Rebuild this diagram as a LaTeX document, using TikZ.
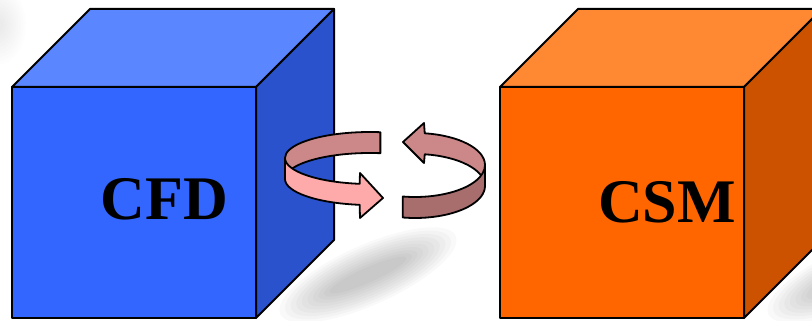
\documentclass[tikz,border=0pt]{standalone}
\usepackage{fontspec}
\setmainfont{Liberation Serif}
\usepackage{xcolor}
\usepackage{tikz}
\usetikzlibrary{calc}

\definecolor{cfdfront}{HTML}{3366FF}
\definecolor{cfdtop}{HTML}{5A86FF}
\definecolor{cfdside}{HTML}{2952CC}
\definecolor{csmfront}{HTML}{FF6600}
\definecolor{csmtop}{HTML}{FF8833}
\definecolor{csmside}{HTML}{CC5200}
\definecolor{ringback}{HTML}{CC8888}
\definecolor{ringfront}{HTML}{FFAAAA}
\definecolor{ringdark}{HTML}{A86E6E}

% cube: lower left corner of the front face, then front, top and side colours
\newcommand{\drawcube}[5]{%
    \filldraw[face, fill=#3] (#1,#2) rectangle ++(244,231);
    \filldraw[face, fill=#4] (#1,#2+231) -- ++(78,78) -- ++(244,0) -- ++(-78,-78) -- cycle;
    \filldraw[face, fill=#5] (#1+244,#2) -- ++(78,78) -- ++(0,231) -- ++(-78,-78) -- cycle;
}

\begin{document}
\begin{tikzpicture}[
        x=1pt, y=1pt,
        face/.style={draw=black, line width=2pt, line join=round},
        band/.style={draw=black, line width=1.8pt, line join=round},
        lbl/.style={font=\fontsize{62}{62}\selectfont\bfseries, inner sep=0pt},
    ]
    \useasboundingbox (0,0) rectangle (812,321);
    \clip (0,0) rectangle (812,321);

    % soft shadows behind the cubes
    \foreach \k in {0,...,9} {
        \fill[black, opacity=0.025, rotate around={24:(368,46)}]
            (368,46) ellipse[x radius=96-6*\k, y radius=30-2.5*\k];
        \fill[black, opacity=0.025, rotate around={24:(856,46)}]
            (856,46) ellipse[x radius=96-6*\k, y radius=30-2.5*\k];
        \fill[black, opacity=0.008] (-4,296) ellipse[x radius=30-2.5*\k, y radius=40-3.5*\k];
    }

    \drawcube{12}{3}{cfdfront}{cfdtop}{cfdside}
    \drawcube{500}{3}{csmfront}{csmtop}{csmside}

    % ring arrow leaving the CFD cube
    \filldraw[band, fill=ringback]
        ($(370,163)+(83:85 and 26)$) arc[start angle=83, end angle=180, x radius=85, y radius=26]
        -- ++(0,-21) arc[start angle=180, end angle=83, x radius=85, y radius=26] -- cycle;
    \filldraw[band, fill=ringfront]
        (285,163) arc[start angle=180, end angle=263, x radius=85, y radius=26]
        -- (360,148) -- (383,123) -- (360,103)
        -- ($(370,142)+(263:85 and 26)$) arc[start angle=263, end angle=180, x radius=85, y radius=26] -- cycle;

    % ring arrow coming back from the CSM cube
    \filldraw[band, fill=ringback]
        ($(415,156)+(82:70 and 32)$) arc[start angle=82, end angle=0, x radius=70, y radius=32]
        -- ++(0,-21) arc[start angle=0, end angle=82, x radius=70, y radius=32]
        -- (424,158) -- (403,179) -- (424,198) -- cycle;
    \filldraw[band, fill=ringdark]
        (485,156) arc[start angle=0, end angle=-100, x radius=70, y radius=32]
        -- ++(0,-21) arc[start angle=-100, end angle=0, x radius=70, y radius=32] -- cycle;

    \node[lbl, anchor=base] (cfd) at (164.5,101) {CFD};
    \node[lbl, anchor=base] (csm) at (667,98) {CSM};
\end{tikzpicture}
\end{document}
